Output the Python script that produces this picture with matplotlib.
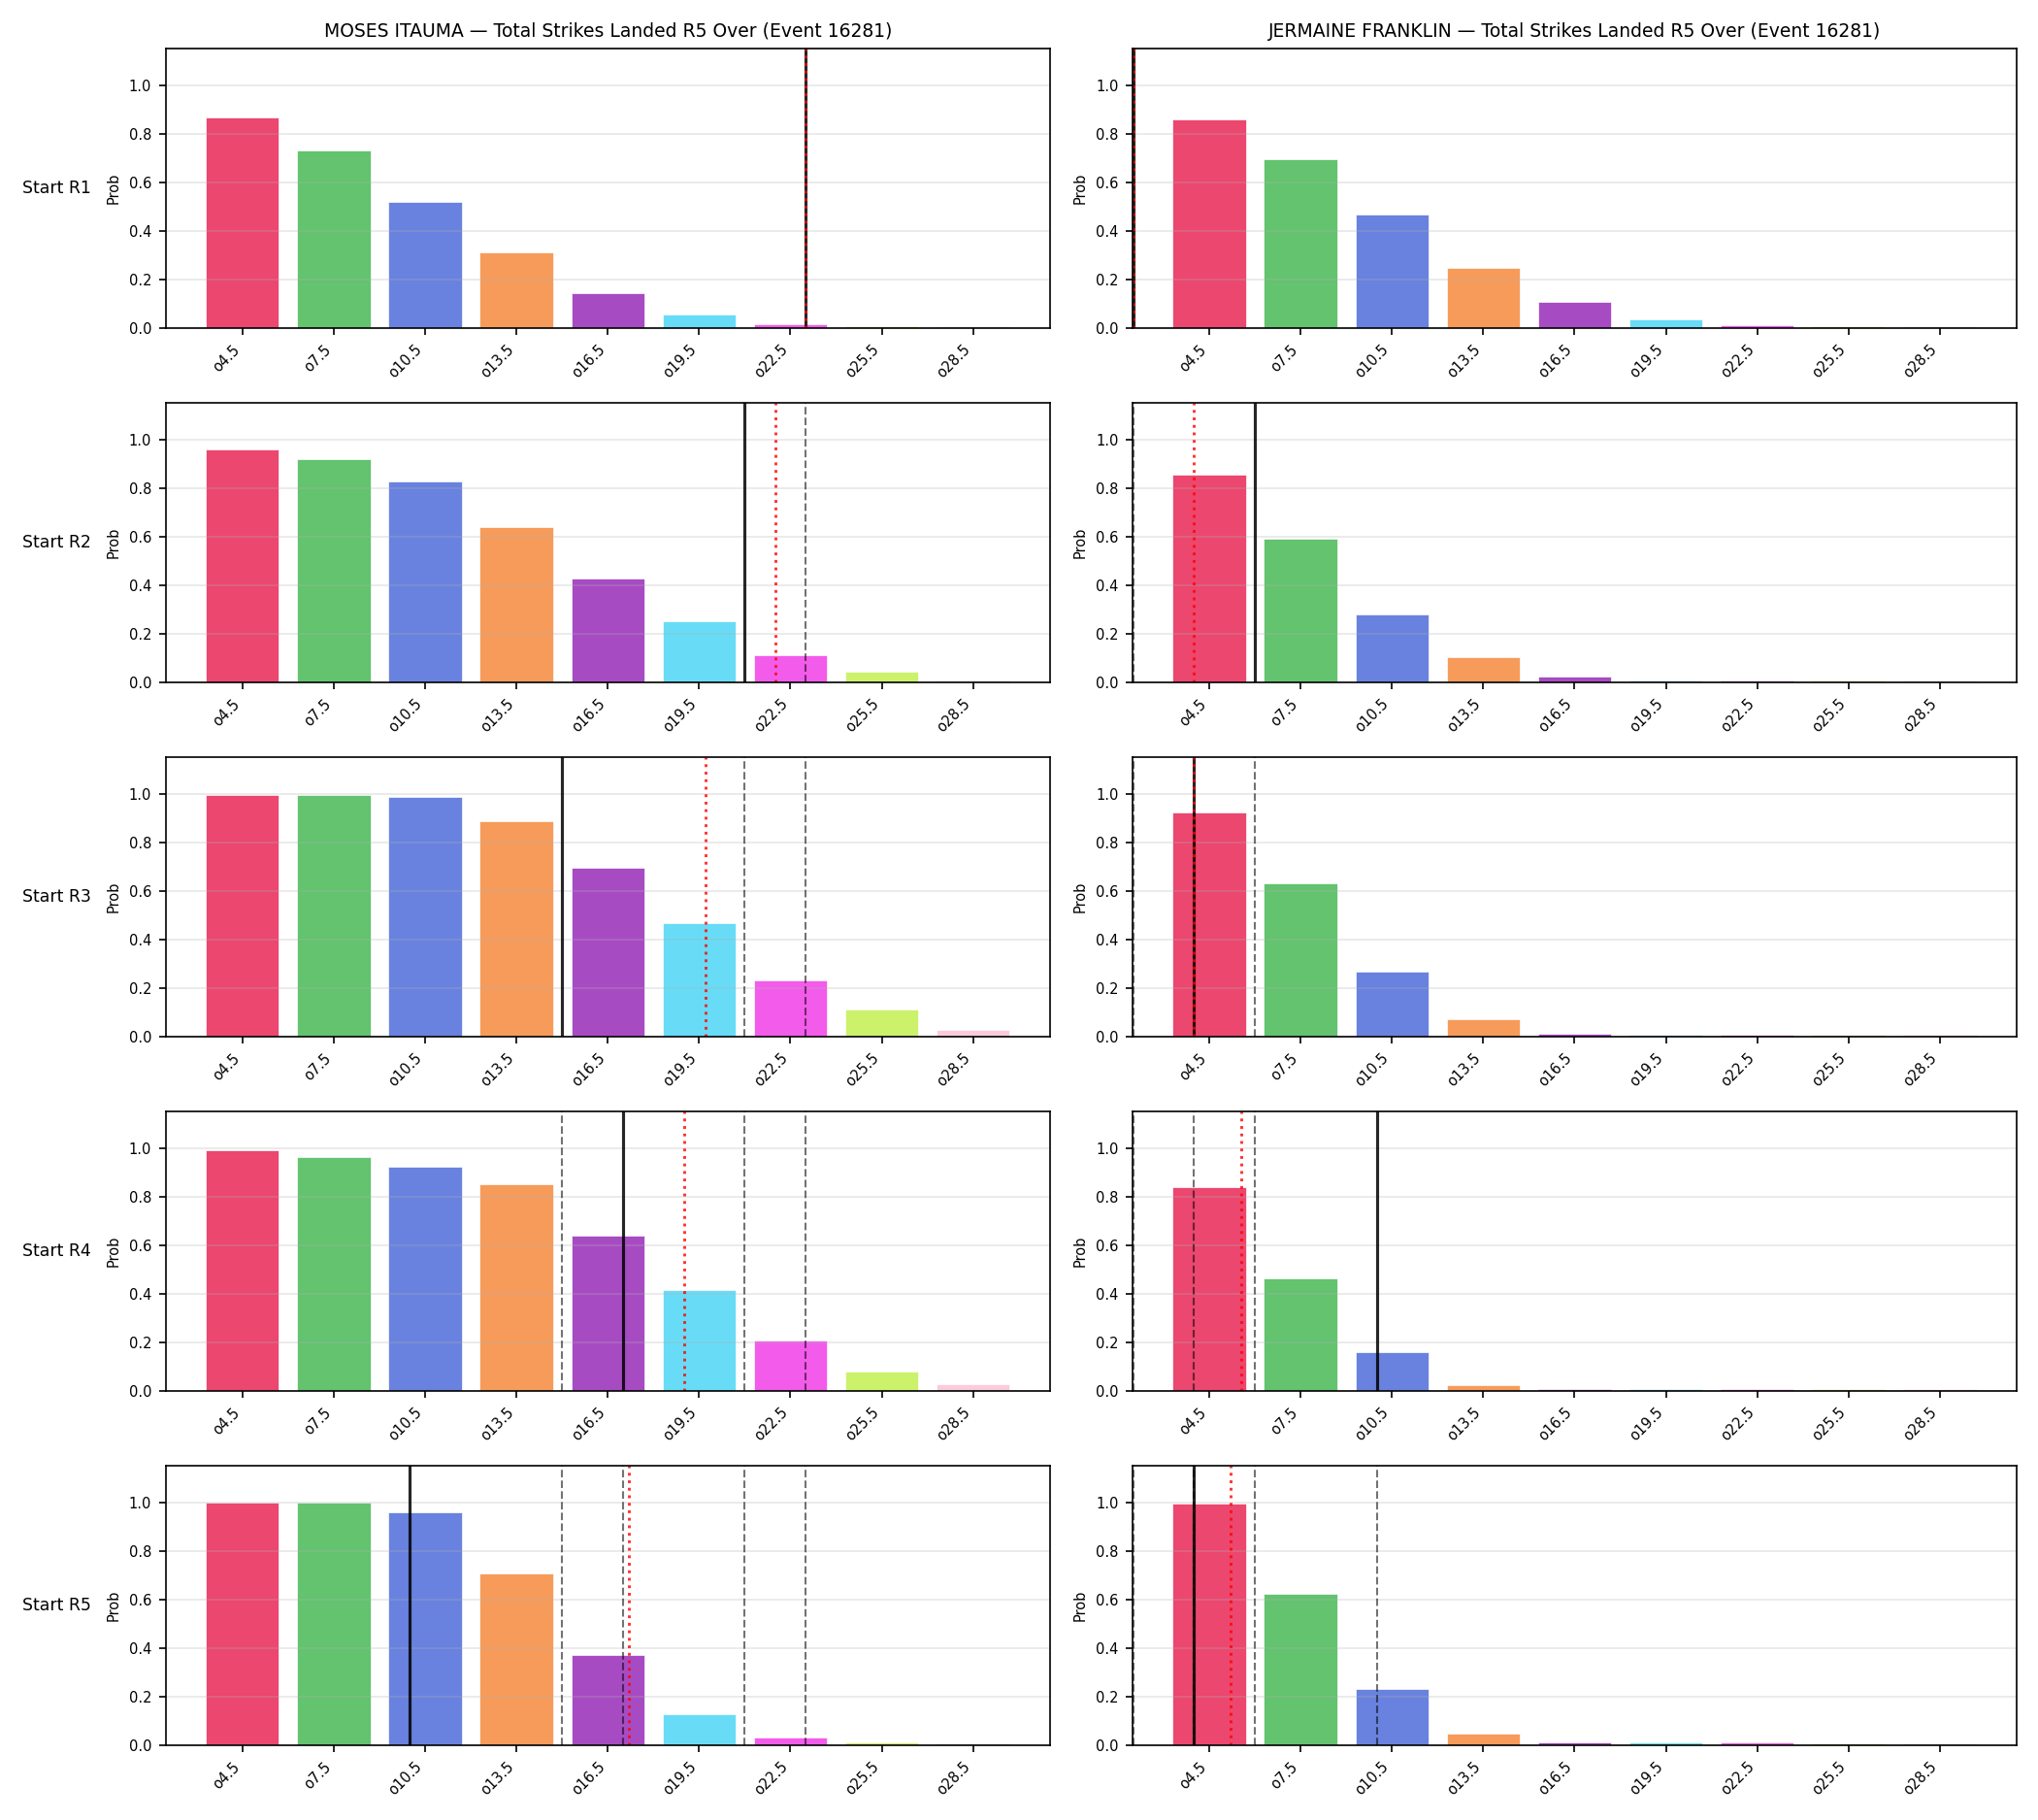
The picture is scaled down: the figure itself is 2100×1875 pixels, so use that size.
import numpy as np
import matplotlib
matplotlib.use("Agg")
from matplotlib import pyplot as plt

event_id = 16281
fighters = ["MOSES ITAUMA", "JERMAINE FRANKLIN"]
start_rounds = ["Start R1", "Start R2", "Start R3", "Start R4", "Start R5"]
lines = [4.5, 7.5, 10.5, 13.5, 16.5, 19.5, 22.5, 25.5, 28.5]
line_labels = ["o4.5", "o7.5", "o10.5", "o13.5", "o16.5", "o19.5", "o22.5", "o25.5", "o28.5"]

# P(total strikes landed > line), one list per start round
itauma_probs = [
    [0.865, 0.730, 0.517, 0.309, 0.144, 0.056, 0.017, 0.009, 0.008],
    [0.957, 0.917, 0.825, 0.637, 0.425, 0.252, 0.112, 0.044, 0.009],
    [0.996, 0.996, 0.988, 0.888, 0.696, 0.467, 0.231, 0.111, 0.027],
    [0.992, 0.964, 0.924, 0.852, 0.640, 0.415, 0.207, 0.079, 0.027],
    [0.997, 0.997, 0.957, 0.705, 0.372, 0.127, 0.031, 0.009, 0.008],
]
franklin_probs = [
    [0.858, 0.694, 0.465, 0.247, 0.108, 0.036, 0.010, 0.009, 0.008],
    [0.853, 0.589, 0.280, 0.101, 0.025, 0.009, 0.009, 0.008, 0.008],
    [0.924, 0.632, 0.268, 0.071, 0.013, 0.009, 0.009, 0.008, 0.008],
    [0.840, 0.464, 0.157, 0.024, 0.009, 0.009, 0.009, 0.008, 0.008],
    [0.993, 0.624, 0.231, 0.047, 0.009, 0.009, 0.009, 0.008, 0.008],
]

# strikes landed so far (solid) and projected total (red dotted), per start round
itauma_current = [23, 21, 15, 17, 10]
itauma_proj = [23, 22, 19.7, 19, 17.2]
franklin_current = [2, 6, 4, 10, 4]
franklin_proj = [2, 4, 4, 5.55, 5.2]

colors = ['#e6194B', '#3cb44b', '#4363d8', '#f58231', '#911eb4',
          '#42d4f4', '#f032e6', '#bfef45', '#fabed4']

probs = [itauma_probs, franklin_probs]
current = [itauma_current, franklin_current]
proj = [itauma_proj, franklin_proj]


def to_pos(v):
    # strike count -> bar index position
    return (v - lines[0]) / (lines[1] - lines[0])


fig, axes = plt.subplots(5, 2, figsize=(14, 12.5), dpi=150)
plt.subplots_adjust(left=0.0813, right=0.9895, top=0.9733, bottom=0.0412,
                    hspace=0.2687, wspace=0.0935)

x = np.arange(len(lines))
for c in range(2):
    for r in range(5):
        ax = axes[r, c]
        ax.bar(x, probs[c][r], color=colors, alpha=0.8, width=0.8,
               edgecolor='white', linewidth=0.4)
        ax.set_ylim(0, 1.15)
        # previous rounds' marks
        for prev in current[c][:r]:
            ax.axvline(to_pos(prev), color='k', linestyle='--', linewidth=1, alpha=0.55)
        ax.axvline(to_pos(current[c][r]), color='k', linewidth=1.5, alpha=0.85)
        ax.axvline(to_pos(proj[c][r]), color='red', linestyle=':', linewidth=1.4, alpha=0.8)
        ax.set_xticks(x)
        ax.set_xticklabels(line_labels, rotation=45, ha='right', fontsize=7)
        ax.tick_params(axis='y', labelsize=7)
        ax.set_ylabel("Prob", fontsize=7)
        ax.grid(axis='y', alpha=0.3)
        if r == 0:
            ax.set_title("{} \u2014 Total Strikes Landed R5 Over (Event {})".format(fighters[c], event_id),
                         fontsize=9)
        if c == 0:
            ax.annotate(start_rounds[r], xy=(23 / 2100, 0.5), xycoords=('figure fraction', 'axes fraction'),
                        ha='left', va='center', fontsize=8.25)

plt.savefig("out.png", dpi=150)
